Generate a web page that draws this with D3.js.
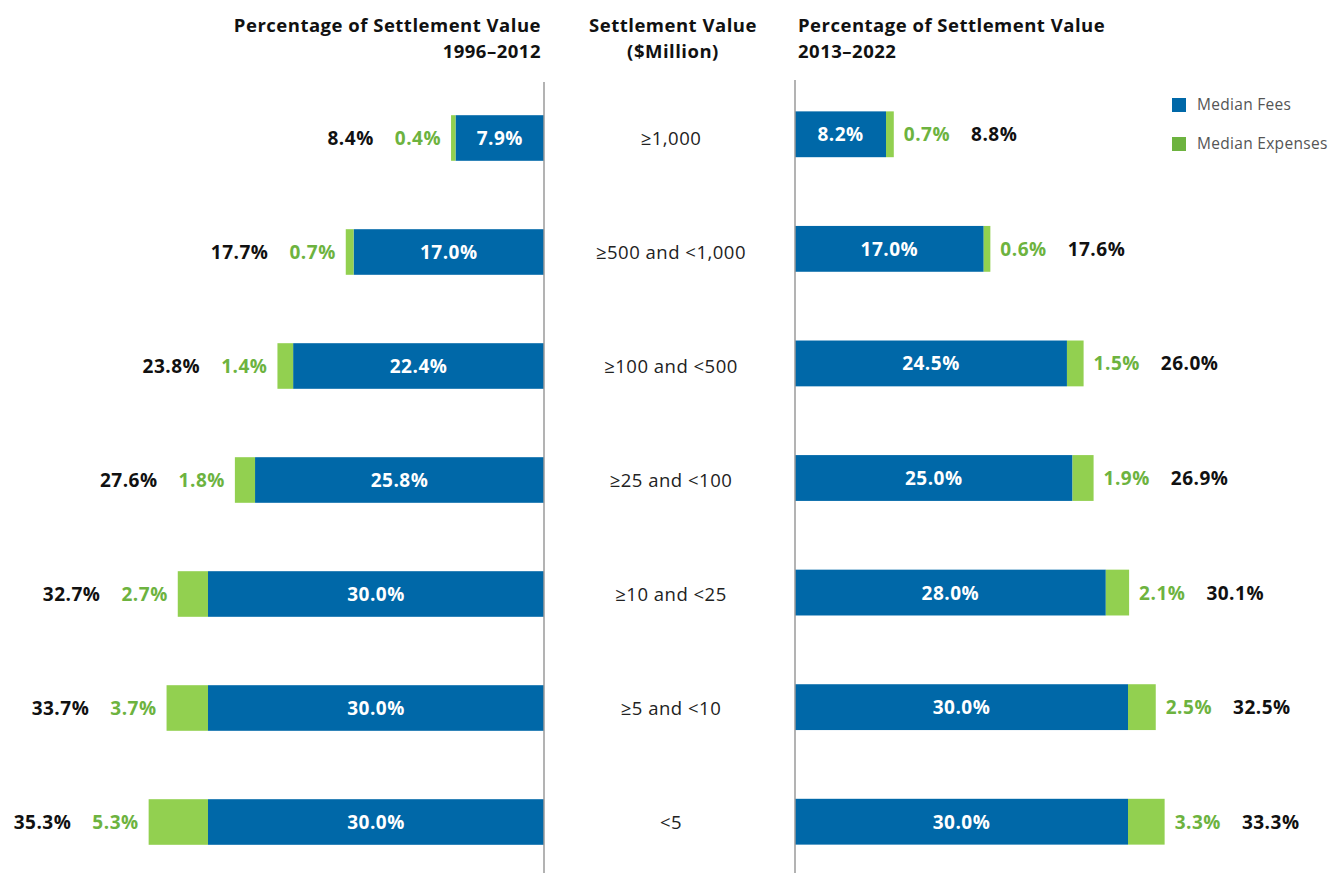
<!DOCTYPE html>
<html>
<head>
<meta charset="utf-8">
<script src="https://cdn.jsdelivr.net/npm/d3@7"></script>
<style>
  html, body { margin: 0; padding: 0; background: #fff; }
  svg { display: block; font-family: "Open Sans", "Noto Sans", sans-serif; }
</style>
</head>
<body>
<div id="chart"></div>
<script>
// Settlement value bands (top to bottom)
const categories = ['≥1,000', '≥500 and <1,000', '≥100 and <500', '≥25 and <100', '≥10 and <25', '≥5 and <10', '<5'];

// 1996–2012
const feesEarly = [7.9, 17.0, 22.4, 25.8, 30.0, 30.0, 30.0];
const expensesEarly = [0.4, 0.7, 1.4, 1.8, 2.7, 3.7, 5.3];
const totalEarly = [8.4, 17.7, 23.8, 27.6, 32.7, 33.7, 35.3];

// 2013–2022
const feesLate = [8.2, 17.0, 24.5, 25.0, 28.0, 30.0, 30.0];
const expensesLate = [0.7, 0.6, 1.5, 1.9, 2.1, 2.5, 3.3];
const totalLate = [8.8, 17.6, 26.0, 26.9, 30.1, 32.5, 33.3];

const legendItems = ['Median Fees', 'Median Expenses'];

const W = 1330, H = 873;
const BLUE = '#0068a8', GREEN = '#92d050', GREEN_TXT = '#6db33f', AXIS = '#9a9a9a';

const svg = d3.select('#chart').append('svg')
    .attr('width', W)
    .attr('height', H);

const fmt = v => d3.format('.1f')(v) + '%';

// Scales — left panel grows leftward, right panel grows rightward
const xLeft = d3.scaleLinear().domain([0, 10]).range([544, 432]);
const xRight = d3.scaleLinear().domain([0, 10]).range([795, 906]);
const yLeft = d3.scaleBand().domain(categories).range([81, 879]).paddingInner(0.6).paddingOuter(0.3);
const yRight = d3.scaleBand().domain(categories).range([77, 879]).paddingInner(0.6).paddingOuter(0.3);

// Titles
function title(x, anchor, lines) {
    const t = svg.append('text')
        .attr('x', x)
        .attr('y', 32)
        .attr('text-anchor', anchor)
        .attr('font-size', '18.5px')
        .attr('letter-spacing', '0.5px')
        .attr('font-weight', 700)
        .attr('fill', '#111');
    lines.forEach((l, i) => t.append('tspan').attr('x', x).attr('dy', i ? 26 : 0).text(l));
}
title(541, 'end', ['Percentage of Settlement Value', '1996–2012']);
title(673, 'middle', ['Settlement Value', '($Million)']);
title(798, 'start', ['Percentage of Settlement Value', '2013–2022']);

// Draw one panel
function panel(x, y, fees, expenses, totals, dir) {
    const rows = categories.map((c, i) => ({ c, fee: fees[i], exp: expenses[i], tot: totals[i] }));
    const g = svg.append('g');

    // Fees bars
    g.selectAll('.fee')
        .data(rows)
        .enter()
        .append('rect')
        .attr('x', d => Math.min(x(0), x(d.fee)))
        .attr('y', d => y(d.c))
        .attr('width', d => Math.abs(x(d.fee) - x(0)))
        .attr('height', y.bandwidth())
        .attr('fill', BLUE);

    // Expenses bars
    g.selectAll('.exp')
        .data(rows)
        .enter()
        .append('rect')
        .attr('x', d => Math.min(x(d.fee), x(d.fee + d.exp)))
        .attr('y', d => y(d.c))
        .attr('width', d => Math.abs(x(d.fee + d.exp) - x(d.fee)))
        .attr('height', y.bandwidth())
        .attr('fill', GREEN);

    const cy = d => y(d.c) + y.bandwidth() / 2 + 7;
    const label = sel => sel
        .attr('y', cy)
        .attr('font-size', '19px')
        .attr('letter-spacing', '0.5px')
        .attr('font-weight', 700);

    // Fee label inside
    g.selectAll('.feeLbl')
        .data(rows)
        .enter()
        .append('text')
        .call(label)
        .attr('x', d => (x(0) + x(d.fee)) / 2)
        .attr('text-anchor', 'middle')
        .attr('fill', '#fff')
        .text(d => fmt(d.fee));

    // Expense label
    const expLbl = g.selectAll('.expLbl')
        .data(rows)
        .enter()
        .append('text')
        .call(label)
        .attr('x', d => x(d.fee + d.exp) + dir * 10)
        .attr('text-anchor', dir < 0 ? 'end' : 'start')
        .attr('fill', GREEN_TXT)
        .text(d => fmt(d.exp));

    // Total label, placed after the measured expense label
    const widths = expLbl.nodes().map(n => n.getComputedTextLength());
    g.selectAll('.totLbl')
        .data(rows)
        .enter()
        .append('text')
        .call(label)
        .attr('x', (d, i) => x(d.fee + d.exp) + dir * (10 + widths[i] + 21))
        .attr('text-anchor', dir < 0 ? 'end' : 'start')
        .attr('fill', '#111')
        .text(d => fmt(d.tot));
}

panel(xLeft, yLeft, feesEarly, expensesEarly, totalEarly, -1);
panel(xRight, yRight, feesLate, expensesLate, totalLate, 1);

// Baselines
svg.append('line')
    .attr('x1', xLeft(0)).attr('x2', xLeft(0))
    .attr('y1', 82).attr('y2', H)
    .attr('stroke', AXIS).attr('stroke-width', 1.5);
svg.append('line')
    .attr('x1', xRight(0)).attr('x2', xRight(0))
    .attr('y1', 80).attr('y2', H)
    .attr('stroke', AXIS).attr('stroke-width', 1.5);

// Category labels (centre column)
svg.selectAll('.cat')
    .data(categories)
    .enter()
    .append('text')
    .attr('x', 671)
    .attr('y', d => yLeft(d) + yLeft.bandwidth() / 2 + 7)
    .attr('text-anchor', 'middle')
    .attr('font-size', '18.5px')
    .attr('letter-spacing', '0.5px')
    .attr('fill', '#222')
    .text(d => d);

// Legend
const legend = svg.append('g').attr('transform', 'translate(1172, 98)');
legendItems.forEach((name, i) => {
    legend.append('rect')
        .attr('x', 0)
        .attr('y', i * 39)
        .attr('width', 14)
        .attr('height', 14)
        .attr('fill', i ? '#6db33f' : BLUE);
    legend.append('text')
        .attr('x', 25)
        .attr('y', i * 39 + 12)
        .attr('font-size', '15.5px')
        .attr('letter-spacing', '0.3px')
        .attr('fill', '#555')
        .text(name);
});
</script>
</body>
</html>
